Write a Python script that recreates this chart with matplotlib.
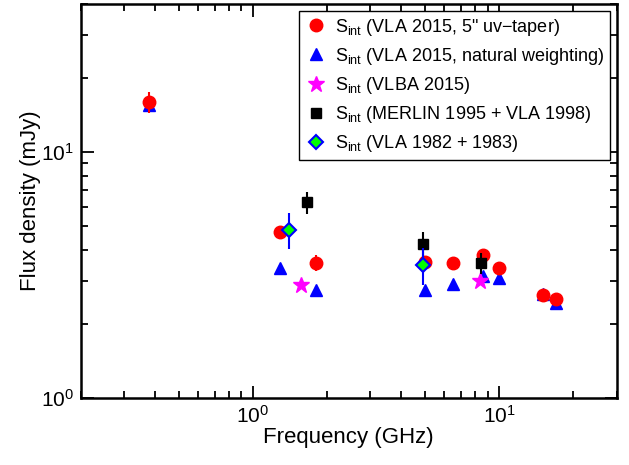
import numpy as np
import matplotlib
matplotlib.use('Agg')
from matplotlib import pyplot as plt
from matplotlib.ticker import NullFormatter, LogLocator

plt.rcParams['font.family'] = ['Liberation Sans', 'DejaVu Sans']
plt.rcParams['mathtext.fontset'] = 'custom'
plt.rcParams['mathtext.rm'] = 'Liberation Sans'
plt.rcParams['mathtext.it'] = 'Liberation Sans:italic'
plt.rcParams['mathtext.default'] = 'regular'

# VLA 2015, 5" uv-taper
f_taper = [0.38, 1.29, 1.80, 5.0, 6.5, 8.6, 10.0, 15.0, 17.0]
s_taper = [16.0, 4.75, 3.55, 3.57, 3.55, 3.83, 3.38, 2.63, 2.54]
e_taper = [1.6, 0.25, 0.27, 0.2, 0.2, 0.2, 0.15, 0.12, 0.12]

# VLA 2015, natural weighting
f_nat = [0.38, 1.29, 1.80, 5.0, 6.5, 8.6, 10.0, 15.0, 17.0]
s_nat = [15.6, 3.38, 2.76, 2.76, 2.91, 3.13, 3.07, 2.66, 2.45]
e_nat = [0.8, 0.1, 0.1, 0.1, 0.1, 0.1, 0.1, 0.1, 0.1]

# VLBA 2015
f_vlba = [1.57, 8.35]
s_vlba = [2.89, 3.0]

# MERLIN 1995 + VLA 1998
f_merlin = [1.66, 4.9, 8.4]
s_merlin = [6.26, 4.24, 3.55]
e_merlin = [0.65, 0.5, 0.35]

# VLA 1982 + 1983
f_old = [1.40, 4.9]
s_old = [4.85, 3.49]
e_old = [0.8, 0.6]

labels = [r'S$_{int}$ (VLA 2015, 5" uv$-$taper)',
          r'S$_{int}$ (VLA 2015, natural weighting)',
          r'S$_{int}$ (VLBA 2015)',
          r'S$_{int}$ (MERLIN 1995 + VLA 1998)',
          r'S$_{int}$ (VLA 1982 + 1983)']

fig = plt.figure(figsize=(6.29, 4.65), dpi=100)
ax = fig.add_axes([0.128, 0.1434, 0.8525, 0.848])

# error bars first, markers on top
ax.errorbar(f_nat, s_nat, yerr=e_nat, fmt='none', ecolor='b', elinewidth=1.5, capsize=0)
h2, = ax.plot(f_nat, s_nat, '^', color='b', ms=9, ls='none')
ax.errorbar(f_taper, s_taper, yerr=e_taper, fmt='none', ecolor='r', elinewidth=1.5, capsize=0)
h1, = ax.plot(f_taper, s_taper, 'o', color='r', ms=9, ls='none')
h3, = ax.plot(f_vlba, s_vlba, '*', color=(1, 0, 1), ms=12, ls='none')
ax.errorbar(f_merlin, s_merlin, yerr=e_merlin, fmt='none', ecolor='k', elinewidth=1.5, capsize=0)
h4, = ax.plot(f_merlin, s_merlin, 's', color='k', ms=7, ls='none')
ax.errorbar(f_old, s_old, yerr=e_old, fmt='none', ecolor='b', elinewidth=1.5, capsize=0)
h5, = ax.plot(f_old, s_old, 'D', mfc=(0, 1, 0), mec='b', mew=1.5, ms=7, ls='none')

ax.set_xscale('log')
ax.set_yscale('log')
ax.set_xlim(0.2, 30)
ax.set_ylim(1, 40)

ax.xaxis.set_minor_locator(LogLocator(base=10, subs=np.arange(2, 10)))
ax.yaxis.set_minor_locator(LogLocator(base=10, subs=np.arange(2, 10)))
ax.xaxis.set_minor_formatter(NullFormatter())
ax.yaxis.set_minor_formatter(NullFormatter())

ax.tick_params(which='both', direction='in', top=True, right=True, width=1.3, labelsize=15)
ax.tick_params(which='major', length=9, pad=5)
ax.tick_params(which='minor', length=5)
for sp in ax.spines.values():
    sp.set_linewidth(1.8)

ax.set_xlabel('Frequency (GHz)', fontsize=16, labelpad=0)
ax.set_ylabel('Flux density (mJy)', fontsize=16, labelpad=0)

leg = ax.legend([h1, h2, h3, h4, h5], labels, loc='upper right', fontsize=13,
                frameon=True, fancybox=False, framealpha=1, edgecolor='k',
                borderaxespad=0.4, handletextpad=0.4, labelspacing=0.45,
                borderpad=0.3, handlelength=1.3)
leg.get_frame().set_linewidth(1.0)

fig.savefig('out.png', dpi=100)
